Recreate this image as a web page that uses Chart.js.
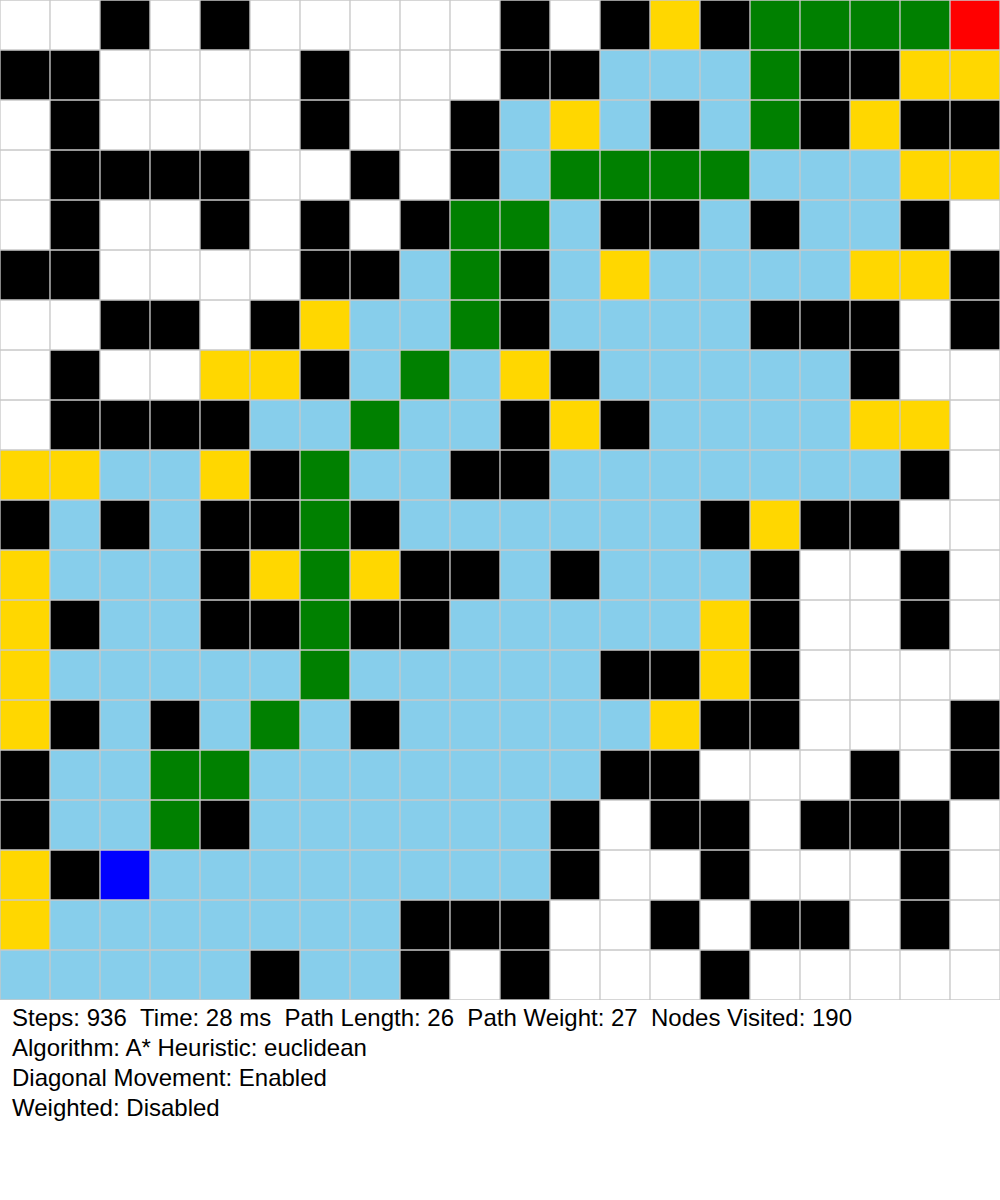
<!DOCTYPE html>
<html>
<head>
<meta charset="utf-8">
<script src="https://cdn.jsdelivr.net/npm/chart.js@4.4.0/dist/chart.umd.min.js"></script>
<style>
  body { margin: 0; background: #fff; }
  #info { font-family: "Liberation Sans", Arial, sans-serif; font-size: 24px; line-height: 30px; padding: 3px 0 0 12px; color: #000; }
</style>
</head>
<body>
<canvas id="grid" width="1000" height="1000"></canvas>
<div id="info"></div>
<script>
// Grid rows, top to bottom. W empty, B wall, L visited, G open, Y frontier, R start, U end
const rows = [
  'WWBWBWWWWWBWBYBGGGGR',
  'BBWWWWBWWWBBLLLGBBYY',
  'WBWWWWBWWBLYLBLGBYBB',
  'WBBBBWWBWBLGGGGLLLYY',
  'WBWWBWBWBGGLBBLBLLBW',
  'BBWWWWBBLGBLYLLLLYYB',
  'WWBBWBYLLGBLLLLBBBWB',
  'WBWWYYBLGLYBLLLLLBWW',
  'WBBBBLLGLLBYBLLLLYYW',
  'YYLLYBGLLBBLLLLLLLBW',
  'BLBLBBGBLLLLLLBYBBWW',
  'YLLLBYGYBBLBLLLBWWBW',
  'YBLLBBGBBLLLLLYBWWBW',
  'YLLLLLGLLLLLBBYBWWWW',
  'YBLBLGLBLLLLLYBBWWWB',
  'BLLGGLLLLLLLBBWWWBWB',
  'BLLGBLLLLLLBWBBWBBBW',
  'YBULLLLLLLLBWWBWWWBW',
  'YLLLLLLLBBBWWBWBBWBW',
  'LLLLLBLLBWBWWWBWWWWW'
];
const columns = Array.from({ length: 20 }, (_, i) => String(i));
const statsLines = [
  'Steps: 936&nbsp;&nbsp;Time: 28 ms&nbsp;&nbsp;Path Length: 26&nbsp;&nbsp;Path Weight: 27&nbsp;&nbsp;Nodes Visited: 190',
  'Algorithm: A* Heuristic: euclidean',
  'Diagonal Movement: Enabled',
  'Weighted: Disabled'
];

const COLORS = { W: '#ffffff', B: '#000000', L: '#87ceeb', G: '#008000', Y: '#ffd700', R: '#ff0000', U: '#0000ff' };

const datasets = rows.map((row, r) => ({
  label: 'row ' + r,
  data: columns.map(() => 1),
  backgroundColor: row.split('').map(c => COLORS[c]),
  borderColor: '#c8c8c8',
  borderWidth: 1,
  borderSkipped: false,
  categoryPercentage: 1,
  barPercentage: 1
}));

new Chart(document.getElementById('grid'), {
  type: 'bar',
  data: { labels: columns, datasets },
  options: {
    responsive: false,
    animation: false,
    devicePixelRatio: 1,
    layout: { padding: 0 },
    plugins: { legend: { display: false }, tooltip: { enabled: false } },
    scales: {
      x: { stacked: true, display: false, offset: true },
      y: { stacked: true, display: false, reverse: true, min: 0, max: 20 }
    }
  }
});

document.getElementById('info').innerHTML = statsLines.map(l => '<div>' + l + '</div>').join('');
</script>
</body>
</html>
